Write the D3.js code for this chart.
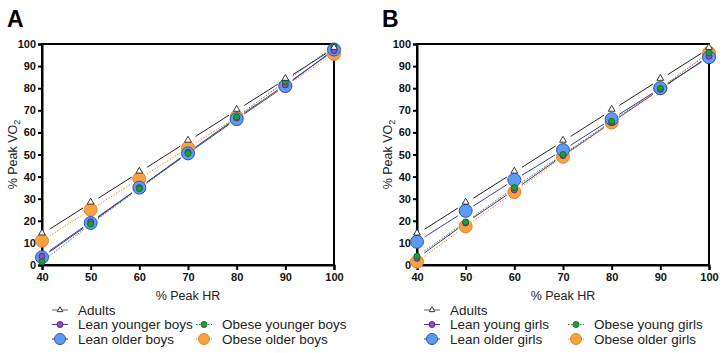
<!DOCTYPE html>
<html>
<head>
<meta charset="utf-8">
<script src="https://cdn.jsdelivr.net/npm/d3@7"></script>
<style>
  body { margin: 0; background: white; }
  svg { font-family: "Liberation Sans", Arial, sans-serif; }
  .tick text { font-weight: bold; font-size: 11px; fill: #111; }
</style>
</head>
<body>
<svg width="726" height="353"></svg>
<script>
// % peak HR stages
var hr = [40, 50, 60, 70, 80, 90, 100];

// panel A (boys)
var adultsA = [14, 28, 42, 56, 70, 84, 98];
var leanYoungBoys = [4, 19.5, 35, 51, 66.5, 81.5, 97];
var leanOldBoys = [3.5, 19, 35, 50.5, 66, 81, 97.5];
var obeseYoungBoys = [1.5, 18.5, 34.5, 50.5, 67, 83, 99];
var obeseOldBoys = [11, 25, 39, 53, 67, 81, 95.5];

// panel B (girls)
var adultsB = [14, 28, 42, 56, 70, 84, 98];
var leanYoungGirls = [3, 19, 34, 49.5, 64.5, 79.5, 94.5];
var leanOldGirls = [10.5, 24.5, 38.5, 52, 66, 80, 94];
var obeseYoungGirls = [4, 19.5, 35, 50, 65, 80, 96];
var obeseOldGirls = [1.5, 17.5, 33, 49, 64.5, 80, 96];

var yTicks = [0, 10, 20, 30, 40, 50, 60, 70, 80, 90, 100];

var styles = {
  adults: {fill: "white", stroke: "#222", line: "#222", dash: null, shape: "tri", r: 3.5},
  leanYoung: {fill: "#9a48c4", stroke: "#5a2a80", line: "#5b2d8e", dash: null, shape: "circle", r: 3},
  leanOld: {fill: "#5b9cf0", stroke: "#2f55b0", line: "#3b3f96", dash: null, shape: "circle", r: 6.5},
  obeseYoung: {fill: "#1f9c3a", stroke: "#14702a", line: "#2a8a44", dash: "1.5,1.5", shape: "circle", r: 3},
  obeseOld: {fill: "#f7a242", stroke: "#e08424", line: "#e8892c", dash: "1.5,1.5", shape: "circle", r: 6.5}
};

var svg = d3.select("svg");

function panel(x0, letter, series, names, colX) {
  var left = x0 + 42, right = x0 + 334, top = 44, bottom = 265;
  var g = svg.append("g");

  var x = d3.scaleLinear().domain([40, 100]).range([left, right]);
  var y = d3.scaleLinear().domain([0, 100]).range([bottom, top]);

  g.append("text").attr("x", x0 + 7).attr("y", 27)
    .style("font-size", "23px").style("font-weight", "bold").text(letter);

  // frame
  g.append("rect").attr("x", left).attr("y", top)
    .attr("width", right - left).attr("height", bottom - top)
    .attr("fill", "none").attr("stroke", "#000").attr("stroke-width", 2);

  var xAxis = g.append("g").attr("transform", "translate(0," + bottom + ")")
    .call(d3.axisBottom(x).tickValues(hr).tickSize(5).tickPadding(3));
  var yAxis = g.append("g").attr("transform", "translate(" + left + ",0)")
    .call(d3.axisLeft(y).tickValues(yTicks).tickSize(4).tickPadding(2));
  [xAxis, yAxis].forEach(function(a) {
    a.select(".domain").attr("stroke-width", 2);
    a.selectAll(".tick line").attr("stroke-width", 2);
  });

  g.append("text").attr("x", (left + right) / 2).attr("y", 300)
    .attr("text-anchor", "middle").style("font-size", "12.5px").style("fill", "#222")
    .text("% Peak HR");

  var yl = g.append("text")
    .attr("transform", "translate(" + (x0 + 17) + "," + ((top + bottom) / 2) + ") rotate(-90)")
    .attr("text-anchor", "middle").style("font-size", "12.5px").style("fill", "#222");
  yl.append("tspan").text("% Peak VO");
  yl.append("tspan").attr("dy", 3).style("font-size", "9px").text("2");

  // connecting lines with gaps at markers
  var gap = 9;
  series.forEach(function(s) {
    var st = styles[s.key];
    for (var i = 0; i < hr.length - 1; i++) {
      var ax = x(hr[i]), ay = y(s.values[i]), bx = x(hr[i + 1]), by = y(s.values[i + 1]);
      var len = Math.hypot(bx - ax, by - ay), ux = (bx - ax) / len, uy = (by - ay) / len;
      g.append("line")
        .attr("x1", ax + ux * gap).attr("y1", ay + uy * gap)
        .attr("x2", bx - ux * gap).attr("y2", by - uy * gap)
        .attr("stroke", st.line).attr("stroke-width", 1)
        .attr("stroke-dasharray", st.dash);
    }
  });

  var drawOrder = ["obeseOld", "leanOld", "leanYoung", "obeseYoung", "adults"];
  drawOrder.forEach(function(k) {
    var s = series.filter(function(d) { return d.key === k; })[0];
    marker(g.selectAll(null).data(s.values).enter(), k,
      function(d, i) { return x(hr[i]); }, function(d) { return y(d); });
  });

  // legend
  var rows = [
    {key: "adults", name: names[0], col: 0, row: 0},
    {key: "leanYoung", name: names[1], col: 0, row: 1},
    {key: "leanOld", name: names[2], col: 0, row: 2},
    {key: "obeseYoung", name: names[3], col: 1, row: 1},
    {key: "obeseOld", name: names[4], col: 1, row: 2}
  ];
  rows.forEach(function(d) {
    var st = styles[d.key];
    var cx = x0 + colX[d.col], cy = 310 + d.row * 14.5;
    g.append("line").attr("x1", cx - 8).attr("x2", cx + 8).attr("y1", cy).attr("y2", cy)
      .attr("stroke", d.key === "adults" ? "#666" : st.line).attr("stroke-width", 1)
      .attr("stroke-dasharray", st.dash);
    marker(g.selectAll(null).data([0]).enter(), d.key,
      function() { return cx; }, function() { return cy; }, true);
    g.append("text").attr("x", cx + 18).attr("y", cy + 4.5)
      .style("font-size", "13.5px").style("fill", "#222").text(d.name);
  });
}

function marker(sel, key, fx, fy, legend) {
  var st = styles[key];
  var r = legend && st.r > 5 ? 5.5 : st.r;
  if (st.shape === "tri") {
    var sym = d3.symbol().type(d3.symbolTriangle).size(legend ? 14 : 20);
    sel.append("path").attr("d", sym)
      .attr("transform", function(d, i) { return "translate(" + fx(d, i) + "," + (fy(d, i) - (legend ? 0 : 1)) + ")"; })
      .attr("fill", st.fill).attr("stroke", st.stroke).attr("stroke-width", 0.9);
  } else {
    sel.append("circle").attr("cx", fx).attr("cy", fy).attr("r", r)
      .attr("fill", st.fill).attr("stroke", st.stroke).attr("stroke-width", 1);
  }
}

panel(0, "A", [
  {key: "adults", values: adultsA},
  {key: "leanYoung", values: leanYoungBoys},
  {key: "leanOld", values: leanOldBoys},
  {key: "obeseYoung", values: obeseYoungBoys},
  {key: "obeseOld", values: obeseOldBoys}
], ["Adults", "Lean younger boys", "Lean older boys", "Obese younger boys", "Obese older boys"], [60, 204]);

panel(375, "B", [
  {key: "adults", values: adultsB},
  {key: "leanYoung", values: leanYoungGirls},
  {key: "leanOld", values: leanOldGirls},
  {key: "obeseYoung", values: obeseYoungGirls},
  {key: "obeseOld", values: obeseOldGirls}
], ["Adults", "Lean young girls", "Lean older girls", "Obese young girls", "Obese older girls"], [57, 201]);
</script>
</body>
</html>
